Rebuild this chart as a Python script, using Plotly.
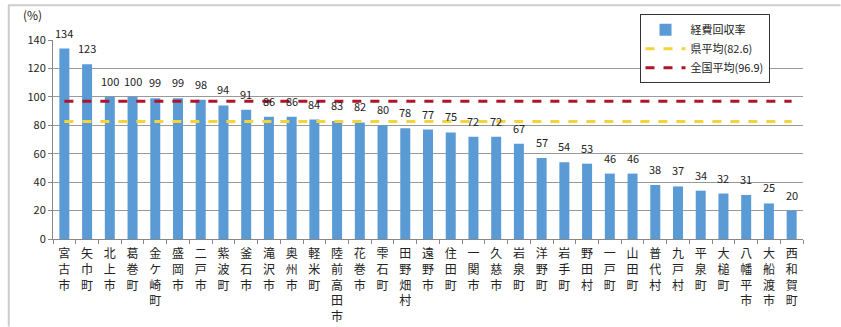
import plotly.graph_objects as go

categories = ["宮古市", "矢巾町", "北上市", "葛巻町", "金ケ崎町", "盛岡市", "二戸市", "紫波町",
              "釜石市", "滝沢市", "奥州市", "軽米町", "陸前高田市", "花巻市", "雫石町", "田野畑村",
              "遠野市", "住田町", "一関市", "久慈市", "岩泉町", "洋野町", "岩手町", "野田村",
              "一戸町", "山田町", "普代村", "九戸村", "平泉町", "大槌町", "八幡平市", "大船渡市", "西和賀町"]
values = [134, 123, 100, 100, 99, 99, 98, 94, 91, 86, 86, 84, 83, 82, 80, 78, 77, 75, 72, 72,
          67, 57, 54, 53, 46, 46, 38, 37, 34, 32, 31, 25, 20]
pref_avg = 82.6
nat_avg = 96.9
y_ticks = [0, 20, 40, 60, 80, 100, 120, 140]

FONT = "Noto Sans CJK JP"
vert = ["<br>".join(list(c)) for c in categories]

fig = go.Figure()
fig.add_trace(go.Bar(
    x=vert, y=values, name="経費回収率",
    marker=dict(color="#5B9BD5", line=dict(width=0)),
    width=0.44,
    cliponaxis=False,
))
fig.add_trace(go.Scatter(
    x=vert, y=[pref_avg] * len(vert), mode="lines", name="県平均(82.6)",
    line=dict(color="#F5D33A", width=3, dash="dash"),
))
fig.add_trace(go.Scatter(
    x=vert, y=[nat_avg] * len(vert), mode="lines", name="全国平均(96.9)",
    line=dict(color="#B0142A", width=3, dash="dash"),
))

value_labels = [
    dict(x=xc, y=v, text=str(v), showarrow=False, xanchor="center", yanchor="bottom",
         yshift=6, font=dict(size=11, family=FONT, color="#222"))
    for xc, v in zip(vert, values)
]

fig.update_layout(
    width=841, height=327,
    margin=dict(l=53, r=38, t=40, b=88),
    paper_bgcolor="white", plot_bgcolor="white",
    font=dict(family=FONT, color="#222", size=11),
    showlegend=True,
    legend=dict(
        x=0.782, y=1.13, xanchor="left", yanchor="top",
        bordercolor="#333", borderwidth=1, bgcolor="white",
        font=dict(size=11, family=FONT), tracegroupgap=0,
        itemwidth=40,
    ),
    xaxis=dict(
        type="category", showgrid=False, showline=True, linecolor="#888",
        ticks="outside", tickson="boundaries", ticklen=4, tickcolor="#888",
        tickangle=0, tickfont=dict(size=12, family=FONT, color="#222"),
        automargin=False, ticklabelstandoff=4,
    ),
    yaxis=dict(
        range=[0, 140], tickvals=y_ticks, showgrid=True, gridcolor="#999",
        gridwidth=1, showline=True, linecolor="#888", ticks="outside",
        ticklen=4, tickcolor="#888", tickfont=dict(size=11, family=FONT, color="#222"),
        zeroline=False, automargin=False,
    ),
    shapes=[
        dict(type="line", xref="paper", yref="paper", x0=-0.06, x1=1.05, y0=1.175, y1=1.175,
             line=dict(color="#CCC", width=2)),
        dict(type="line", xref="paper", yref="paper", x0=-0.059, x1=-0.059, y0=1.175, y1=-0.44,
             line=dict(color="#CCC", width=2)),
    ],
    annotations=[
        dict(text="(%)", xref="paper", yref="paper", x=-0.043, y=1.075, showarrow=False,
             xanchor="left", yanchor="bottom", font=dict(size=12, family=FONT, color="#222")),
    ] + value_labels,
)

fig.write_html("out.html")
